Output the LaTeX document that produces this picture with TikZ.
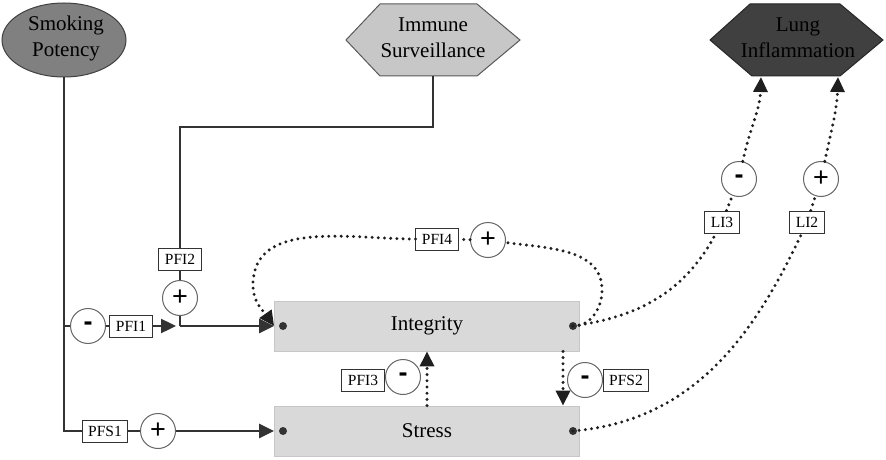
\documentclass[tikz,border=0pt]{standalone}
\usepackage{fontspec}
\setmainfont{Liberation Serif}
\newfontfamily\sgnfont{Liberation Sans}
\usetikzlibrary{arrows.meta,shapes.geometric}
\begin{document}
\begin{tikzpicture}[x=1pt,y=-1pt,
  solidln/.style={draw=black!80, line width=2.4pt},
  dotln/.style={draw=black!88, line width=3.3pt, line cap=round, dash pattern=on 0pt off 6.2pt},
  tip/.style={-{Triangle[length=15pt,width=14pt]}},
  lbl/.style={draw=black!80, fill=white, line width=0.9pt, font=\fontsize{15.5}{15.5}\selectfont, inner xsep=6pt, inner ysep=0pt, minimum height=22pt},
  sgn/.style={circle, draw=black!60, fill=white, line width=1pt, minimum size=35pt, inner sep=0pt, font=\fontsize{27}{27}\selectfont\sgnfont},
  proc/.style={draw=black!22, fill=black!15, line width=0.8pt, minimum width=305pt, minimum height=50pt, inner sep=0pt, font=\fontsize{21}{21}\selectfont},
  port/.style={circle, fill=black!80, minimum size=8pt, inner sep=0pt},
  big/.style={font=\fontsize{21}{26}\selectfont, align=center}
]
\useasboundingbox (0,0) rectangle (886,460);

% top nodes
\node[ellipse, draw=black!75, fill=black!50, line width=1pt, minimum width=124pt, minimum height=74pt, inner sep=0pt] (smoke) at (64,40) {};
\node[big] (smoketxt) at (66,38) {Smoking\\Potency};
\filldraw[fill=black!22, draw=black!65, line width=1pt] (346,40) -- (380,4) -- (477,4) -- (520,40) -- (477,76) -- (380,76) -- cycle;
\node[big] (immune) at (433,38) {Immune\\Surveillance};
\filldraw[fill=black!75, draw=black!85, line width=1pt] (710,40) -- (750,4) -- (840,4) -- (883,40) -- (840,76) -- (752,76) -- cycle;
\node[big, text=black] (lung) at (798,38) {Lung\\Inflammation};

% process boxes
\node[proc] (integrity) at (427,326) {Integrity};
\node[proc] (stress) at (427,431) {Stress};

% coordinates
\coordinate (imb) at (433,76);
\coordinate (imc1) at (433,127);
\coordinate (imc2) at (180,127);
\coordinate (spj) at (64,326);
\coordinate (spc) at (64,431);
\coordinate (jn) at (180,326);
\coordinate (lung1) at (761,77);
\coordinate (lung2) at (838,77);
\coordinate (p2) at (563,0);
\coordinate (pfi4r) at (602,290);
\coordinate (pfi4l) at (253,285);

% label nodes
\node[lbl] (pfs1) at (105,431) {PFS1};
\node[sgn] (pfs1s) at (158,431) {+};
\node[sgn] (pfi1s) at (88,326) {\bfseries -};
\node[lbl] (pfi1) at (131,326) {PFI1};
\node[lbl] (pfi2) at (180,259) {PFI2};
\node[sgn] (pfi2s) at (180,298) {+};
\node[lbl] (pfi4) at (437,239) {PFI4};
\node[sgn] (pfi4s) at (488,240) {+};
\node[lbl] (li3) at (722,222) {LI3};
\node[sgn] (li3s) at (739,179) {\bfseries -};
\node[lbl] (li2) at (807,222) {LI2};
\node[sgn] (li2s) at (821,179) {+};
\node[lbl] (pfi3) at (363,380) {PFI3};
\node[sgn] (pfi3s) at (403,377) {\bfseries -};
\node[sgn] (pfs2s) at (585,380) {\bfseries -};
\node[lbl] (pfs2) at (626,380) {PFS2};

% solid connectors
\draw[solidln] (smoke) -- (spc) -- (pfs1);
\draw[solidln] (pfs1) -- (pfs1s);
\draw[solidln,tip] (pfs1s) -- (stress.west);
\draw[solidln] (spj) -- (pfi1s);
\draw[solidln] (pfi1s) -- (pfi1);
\draw[solidln,tip,shorten >=4pt] (pfi1) -- (jn);
\draw[solidln] (imb) -- (imc1) -- (imc2) -- (pfi2);
\draw[solidln] (pfi2) -- (pfi2s);
\draw[solidln] (pfi2s) -- (jn);
\draw[solidln,tip] (jn) -- (integrity.west);

% ports
\node[port] (intL) at (283,326) {};
\node[port] (intR) at (573,326) {};
\node[port] (strL) at (283,431) {};
\node[port] (strR) at (573,431) {};

% dotted connectors
\draw[dotln] (intR.center) to[out=0,in=-90] (pfi4r) to[out=90,in=-8] (pfi4s);
\draw[dotln] (pfi4s) -- (pfi4);
\draw[dotln,tip] (pfi4) to[out=180,in=90] (pfi4l) to[out=-90,in=125] (integrity.west);
\draw[dotln] (intR.center) to[out=8,in=-118] (li3);
\draw[dotln] (li3) -- (li3s);
\draw[dotln,tip] (li3s) to[out=78,in=-92] (lung1);
\draw[dotln] (strR.center) to[out=5,in=-115] (li2);
\draw[dotln] (li2) -- (li2s);
\draw[dotln,tip] (li2s) to[out=78,in=-92] (lung2);
\draw[dotln,tip] (stress.north) -- (integrity.south);
\draw[dotln,tip] (integrity.south -| p2) -- (stress.north -| p2);
\end{tikzpicture}
\end{document}
